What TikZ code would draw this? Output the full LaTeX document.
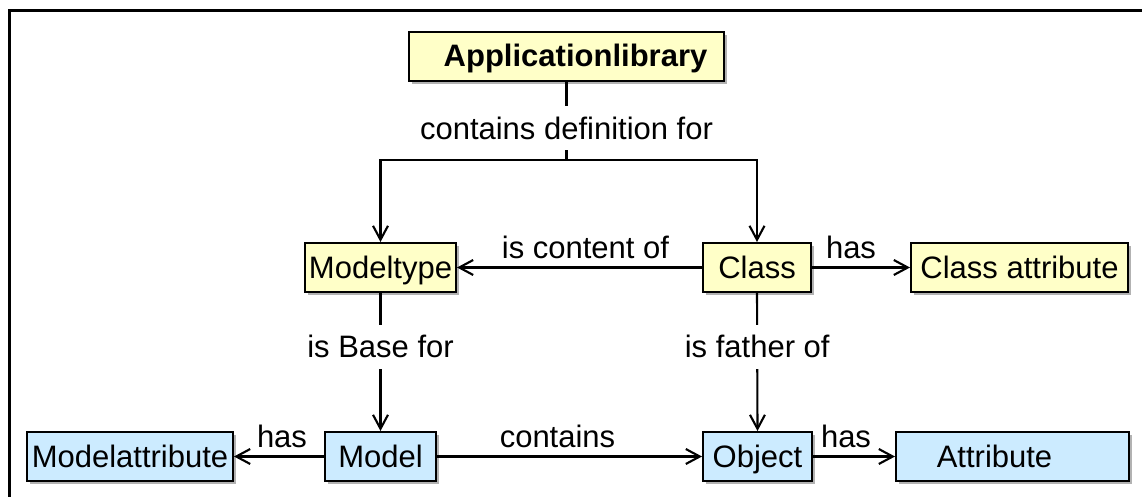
\documentclass[tikz,border=0pt]{standalone}
\usepackage{fontspec}
\setmainfont{Liberation Sans}
\usetikzlibrary{arrows.meta,shadows}
\definecolor{classfill}{HTML}{FFFFC8}
\definecolor{instfill}{HTML}{CCEBFF}
\tikzset{
  box/.style={draw=black, line width=2pt, inner sep=0pt, minimum height=49pt,
    text height=22pt, text depth=1pt,
    font=\fontsize{31}{36}\selectfont,
    drop shadow={shadow xshift=3pt, shadow yshift=-3pt, fill=black!30, opacity=1}},
  classbox/.style={box, fill=classfill},
  instbox/.style={box, fill=instfill},
  link/.style={line width=2.1pt, -{Straight Barb[length=14pt,width=15pt,line width=2.1pt]}},
  plain/.style={line width=2.1pt},
  vlabel/.style={fill=white, inner sep=0pt, minimum height=44pt, font=\fontsize{31}{36}\selectfont},
  hlabel/.style={anchor=base, yshift=9pt, inner sep=0pt, font=\fontsize{31}{36}\selectfont},
  frame/.style={line width=3pt}
}
\begin{document}
\begin{tikzpicture}[x=1pt, y=-1pt]
  \useasboundingbox (0,0) rectangle (1142,497);
  \clip (0,0) rectangle (1142,497);
  \draw[frame] (9,530) -- (9,11) -- (1170,11);

  % types
  \node[classbox, minimum width=315pt] (app) at (566.5,56.5) {\kern18pt\textbf{Applicationlibrary}};
  \node[classbox, minimum width=151pt] (mt) at (380.5,267.5) {Modeltype};
  \node[classbox, minimum width=108pt] (cl) at (757,267.5) {Class};
  \node[classbox, minimum width=217pt] (ca) at (1019.5,267.5) {Class attribute};

  % instances
  \node[instbox, minimum width=206pt] (ma) at (130,456.5) {Modelattribute};
  \node[instbox, minimum width=111pt] (md) at (380.5,456.5) {Model};
  \node[instbox, minimum width=109pt] (ob) at (757.5,456.5) {Object};
  \node[instbox, minimum width=233pt] (at) at (1012.5,456.5) {Attribute\kern36pt};

  % definitions held by the library
  \coordinate (split) at (566.5,160);
  \draw[plain] (app.south) -- node[vlabel, pos=0.59] {contains definition for} (split);
  \draw[link] (split) -| (mt.north);
  \draw[link] (split) -| (cl.north);

  % relations between the types
  \draw[link] (cl.west) -- node[hlabel, xshift=6pt] {is content of} (mt.east);
  \draw[link] (cl.east) -- node[hlabel, xshift=-10pt] {has} (ca.west);
  \draw[link] (mt.south) -- node[vlabel, pos=0.39] {is Base for} (md.north);
  \draw[link] (cl.south) -- node[vlabel, pos=0.39] {is father of} (ob.north);

  % relations between the instances
  \draw[link] (md.west) -- node[hlabel, xshift=3pt] {has} (ma.east);
  \draw[link] (md.east) -- node[hlabel, xshift=-12pt] {contains} (ob.west);
  \draw[link] (ob.east) -- node[hlabel, xshift=-8pt] {has} (at.west);
\end{tikzpicture}
\end{document}
